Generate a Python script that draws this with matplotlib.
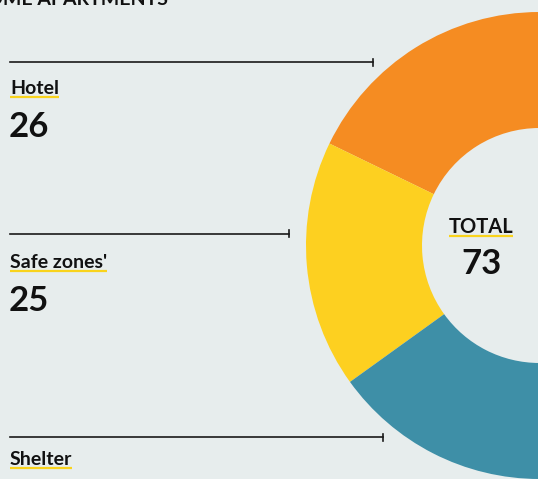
import matplotlib
matplotlib.use("Agg")
import matplotlib.pyplot as plt
from matplotlib.patches import Wedge

# data
categories = ["Hotel", "Safe zones'", "Shelter"]
values = [26, 25, 22]
colors = ["#F58C22", "#FDD020", "#3E8FA7"]
title = "HOME APARTMENTS"
total_label = "TOTAL"

W, H = 538, 479
bg = "#E7EDED"
ink = "#111111"
yellow = "#F9D31C"
plt.rcParams['font.family'] = ['Lato', 'DejaVu Sans']

fig = plt.figure(figsize=(W / 100, H / 100), dpi=100, facecolor=bg)
ax = fig.add_axes([0, 0, 1, 1])
ax.set_facecolor(bg)
ax.set_xlim(0, W)
ax.set_ylim(H, 0)  # image coords
ax.axis('off')

# half donut, left side, values share 180 degrees
cx, cy = 539.5, 245.5
r_out, r_in = 233.5, 117.5
total = sum(values)
start = 90.0
for v, c in zip(values, colors):
    span = v / total * 180.0
    # y axis is inverted, so visual angle a maps to data angle -a
    ax.add_patch(Wedge((cx, cy), r_out, -(start + span), -start,
                       width=r_out - r_in, facecolor=c, edgecolor='none'))
    start += span

# leader lines with small end ticks
line_y = [62, 233.5, 437]
line_x1 = [373, 289, 383]
label_y = [94, 268, 465]
num_y = [137, 311, None]

def underline(t, y):
    fig.canvas.draw()
    bb = t.get_window_extent().transformed(ax.transData.inverted())
    x0, x1 = sorted([bb.x0, bb.x1])
    ax.plot([x0, x1], [y, y], color=yellow, lw=1.6, solid_capstyle='butt')

for i, cat in enumerate(categories):
    ax.plot([10, line_x1[i]], [line_y[i], line_y[i]], color="#1a1a1a", lw=1.2)
    ax.plot([line_x1[i], line_x1[i]], [line_y[i] - 3.5, line_y[i] + 3.5],
            color="#1a1a1a", lw=1.2)
    t = ax.text(10, label_y[i], cat, fontsize=14, fontweight='bold',
                color=ink, va='baseline', ha='left')
    underline(t, label_y[i] + 2.5)
    if num_y[i] is not None:
        ax.text(9, num_y[i], str(values[i]), fontsize=25, fontweight='bold',
                color=ink, va='baseline', ha='left')

# centre total
t = ax.text(481, 233, total_label, fontsize=14.5, fontweight='bold', color=ink,
            va='baseline', ha='center')
underline(t, 235.5)
ax.text(481.5, 274, str(total), fontsize=25, fontweight='bold', color=ink,
        va='baseline', ha='center')

# title, cut off by the top edge
ax.text(168, 5, title, fontsize=14, fontweight='bold', color=ink,
        va='baseline', ha='right')

fig.savefig("out.png", dpi=100, facecolor=bg)
